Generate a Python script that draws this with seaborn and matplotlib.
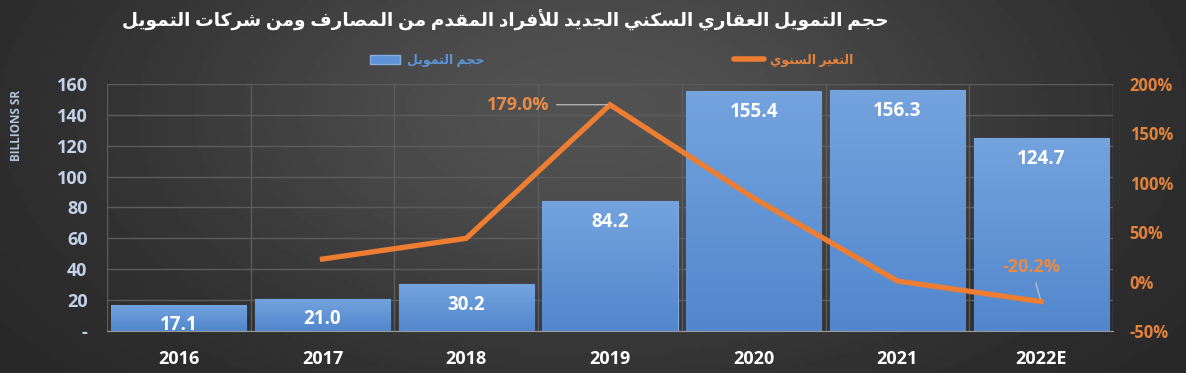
"""
Residential real-estate financing volume (bars) and annual change (line).
"""

import unicodedata

import numpy as np
import pandas as pd
import matplotlib
matplotlib.use("Agg")
import matplotlib.pyplot as plt
from matplotlib.patches import Patch
from matplotlib.lines import Line2D
from matplotlib.ticker import FixedLocator
from matplotlib.colors import LinearSegmentedColormap
import seaborn as sns

# --- data -----------------------------------------------------------------
years = ["2016", "2017", "2018", "2019", "2020", "2021", "2022E"]
volume = [17.1, 21.0, 30.2, 84.2, 155.4, 156.3, 124.7]          # billions SR
growth_years = ["2017", "2018", "2019", "2020", "2021", "2022E"]
growth = [22.8, 43.8, 179.0, 84.6, 0.6, -20.2]                   # percent
growth_labelled = {"2019": 179.0, "2022E": -20.2}

title_text = "حجم التمويل العقاري السكني الجديد للأفراد المقدم من المصارف ومن شركات التمويل"
bar_name = "حجم التمويل"
line_name = "التغير السنوي"

left_ticks = [0, 20, 40, 60, 80, 100, 120, 140, 160]
right_ticks = [-50, 0, 50, 100, 150, 200]

BLUE = "#5d93d6"
ORANGE = "#ed7d31"
AXIS_BLUE = "#c3d2e8"


def _forms(ch):
    name = unicodedata.name(ch, "")
    out = {}
    for f in ("ISOLATED", "FINAL", "INITIAL", "MEDIAL"):
        try:
            out[f] = unicodedata.lookup(f"{name} {f} FORM")
        except KeyError:
            pass
    return out


def arabic(text):
    """Shape Arabic letters into presentation forms and order them for LTR drawing."""
    alefs = {"\u0627": "ALEF", "\u0623": "ALEF WITH HAMZA ABOVE",
             "\u0625": "ALEF WITH HAMZA BELOW", "\u0622": "ALEF WITH MADDA ABOVE"}
    tokens, i = [], 0
    while i < len(text):
        c = text[i]
        if c == "\u0644" and i + 1 < len(text) and text[i + 1] in alefs:
            nm = "ARABIC LIGATURE LAM WITH " + alefs[text[i + 1]]
            tokens.append({f: unicodedata.lookup(f"{nm} {f} FORM") for f in ("ISOLATED", "FINAL")})
            i += 2
        else:
            tokens.append(_forms(c) or c)
            i += 1
    out = []
    for k, t in enumerate(tokens):
        if isinstance(t, str):
            out.append(t)
            continue
        prev = tokens[k - 1] if k > 0 else None
        nxt = tokens[k + 1] if k + 1 < len(tokens) else None
        jp = isinstance(prev, dict) and "INITIAL" in prev
        jn = "INITIAL" in t and isinstance(nxt, dict)
        form = "MEDIAL" if jp and jn else "FINAL" if jp else "INITIAL" if jn else "ISOLATED"
        out.append(t.get(form, t["ISOLATED"]))
    return "".join(reversed(out))


plt.rcParams["font.family"] = ["Open Sans", "DejaVu Sans"]
plt.rcParams["font.weight"] = "bold"

fig = plt.figure(figsize=(11.86, 3.73), dpi=100)

# background gradient
bg = fig.add_axes([0, 0, 1, 1], zorder=-10)
gx, gy = np.meshgrid(np.linspace(0, 1, 300), np.linspace(0, 1, 100))
shade = 0.15 + 0.17 * np.exp(-((gx - 0.5) / 0.38) ** 2 - ((gy - 0.3) / 0.65) ** 2)
bg.imshow(shade, cmap="gray", vmin=0, vmax=1, aspect="auto", extent=(0, 1, 0, 1))
bg.axis("off")

ax = fig.add_axes([0.0902, 0.1126, 0.8482, 0.6622])
ax.set_facecolor("none")

df = pd.DataFrame({"year": years, "volume": volume})
sns.barplot(data=df, x="year", y="volume", ax=ax, color=BLUE, saturation=1,
            width=0.94, edgecolor="#86abdf", linewidth=0.8)

# light-to-dark vertical shading inside each bar
bar_cmap = LinearSegmentedColormap.from_list("barfill", ["#5287cd", "#74a3de"])
ramp = np.linspace(0, 1, 64).reshape(-1, 1)
for patch in ax.patches:
    x0, y0 = patch.get_x(), patch.get_y()
    w, h = patch.get_width(), patch.get_height()
    im = ax.imshow(ramp, cmap=bar_cmap, aspect="auto", origin="lower",
                   extent=(x0, x0 + w, y0, y0 + h), zorder=patch.get_zorder() + 0.1)
    im.set_clip_path(patch)

for i, v in enumerate(volume):
    ax.annotate(f"{v:.1f}", (i, v), xytext=(0, -15), textcoords="offset points",
                ha="center", va="center", color="white", fontsize=13.5,
                fontweight="bold", zorder=5)

ax.set_xlim(-0.5, len(years) - 0.5)
ax.set_ylim(0, 160)
ax.set_yticks(left_ticks)
ax.set_yticklabels(["-" if t == 0 else str(t) for t in left_ticks])
ax.tick_params(axis="y", length=0, colors=AXIS_BLUE, labelsize=13, pad=14)
ax.tick_params(axis="x", length=0, colors="white", labelsize=13, pad=14)
ax.xaxis.set_minor_locator(FixedLocator(np.arange(-0.5, len(years), 1)))
ax.grid(axis="y", color="#5c5c5c", linewidth=1)
ax.grid(axis="x", which="minor", color="#5c5c5c", linewidth=1)
ax.grid(axis="x", which="major", visible=False)
ax.tick_params(axis="x", which="minor", length=0)
ax.set_axisbelow(True)
ax.set_xlabel("")
ax.set_ylabel("")
for s in ["top", "right", "left"]:
    ax.spines[s].set_visible(False)
ax.spines["bottom"].set_color("#9a9a9a")
fig.text(0.014, 0.665, "BILLIONS SR", rotation=90, ha="center", va="center",
         color="#b3c5dd", fontsize=8.5, fontweight="bold")

# annual change line
ax2 = ax.twinx()
ax2.set_facecolor("none")
gx_pos = [years.index(y) for y in growth_years]
sns.lineplot(x=gx_pos, y=growth, ax=ax2, color=ORANGE, linewidth=3.8,
             solid_joinstyle="miter")
ax2.set_ylim(-50, 200)
ax2.set_yticks(right_ticks)
ax2.set_yticklabels([f"{t}%" for t in right_ticks])
ax2.tick_params(axis="y", length=0, colors="#e2823d", labelsize=12, pad=12)
for s in ax2.spines.values():
    s.set_visible(False)
ax2.grid(False)
ax2.set_xlim(-0.5, len(years) - 0.5)

offsets = {"2019": (-66, 0), "2022E": (-7, 25)}
for yr, val in growth_labelled.items():
    ax2.annotate(f"{val:.1f}%", (years.index(yr), val), xytext=offsets[yr],
                 textcoords="offset points", ha="center", va="center",
                 color="#e98a45", fontsize=13, fontweight="bold",
                 arrowprops=dict(arrowstyle="-", color="#c8c8c8", lw=0.8,
                                 shrinkA=3, shrinkB=2))

# title and legend
fig.text(0.426, 0.945, arabic(title_text), ha="center", va="center",
         color="white", fontsize=13.3, fontweight="bold")

handles = [Patch(facecolor=BLUE, edgecolor="#86abdf"),
           Line2D([0], [0], color=ORANGE, linewidth=4, solid_capstyle="round")]
leg = fig.legend(handles, [arabic(bar_name), arabic(line_name)], ncol=2,
                 loc="center", bbox_to_anchor=(0.516, 0.839), frameon=False,
                 fontsize=9, columnspacing=20, handlelength=2.4, handletextpad=0.5)
for txt, col in zip(leg.get_texts(), [BLUE, "#e2823d"]):
    txt.set_color(col)

fig.savefig("out.png", dpi=100)
